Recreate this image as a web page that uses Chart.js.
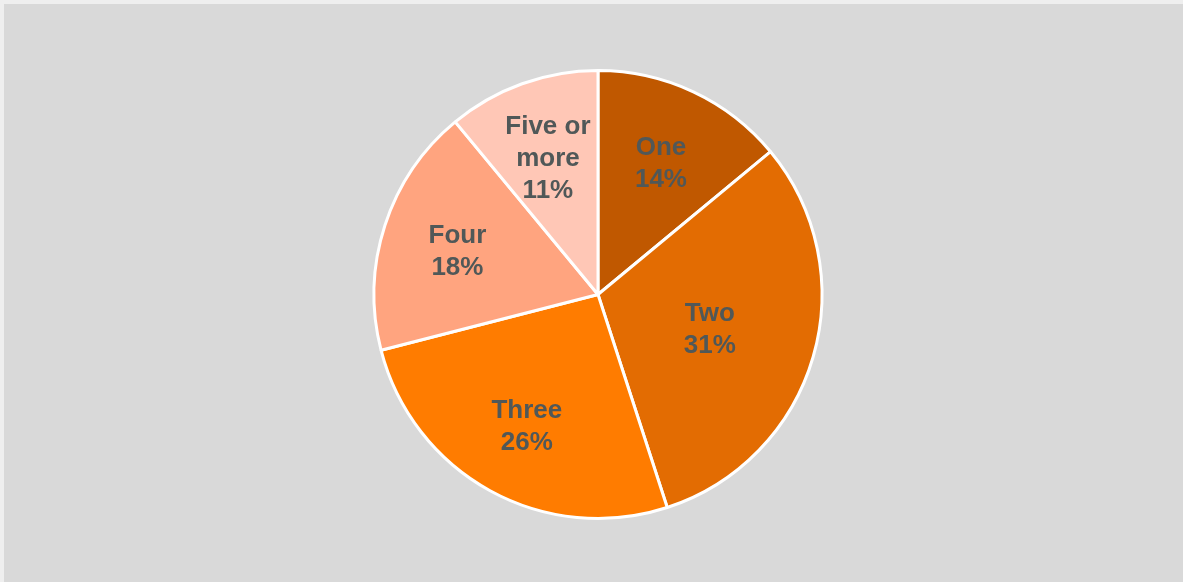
<!DOCTYPE html>
<html lang="en">
<head>
    <meta charset="UTF-8">
    <title>Share by count</title>
    <script src="https://cdn.jsdelivr.net/npm/chart.js"></script>
    <style>
        html, body {
            margin: 0;
            padding: 0;
            background-color: #efefef;
        }

        /* grey plot panel, inset a few px from the page edge */
        .chart-container {
            position: absolute;
            left: 4px;
            top: 4px;
            width: 1179px;
            height: 578px;
            background-color: #d9d9d9;
        }

        canvas {
            width: 100% !important;
            height: 100% !important;
        }
    </style>
</head>
<body>
    <div class="chart-container">
        <canvas id="shareChart"></canvas>
    </div>

    <script>
        // slices run clockwise from 12 o'clock
        var categories = ['One', 'Two', 'Three', 'Four', ['Five or', 'more']];
        var shares = [14, 31, 26, 18, 11];
        var sliceColors = ['#c05800', '#e36c02', '#ff7c00', '#ffa47f', '#ffc7b6'];

        // writes "name / xx%" inside each slice
        var sliceLabels = {
            id: 'sliceLabels',
            afterDatasetsDraw: function (chart) {
                var ctx = chart.ctx;
                var meta = chart.getDatasetMeta(0);
                ctx.save();
                ctx.font = 'bold 26px "Liberation Sans", Arial, sans-serif';
                ctx.fillStyle = '#505858';
                ctx.textAlign = 'center';
                ctx.textBaseline = 'middle';
                meta.data.forEach(function (arc, i) {
                    var mid = (arc.startAngle + arc.endAngle) / 2;
                    // the big slice gets its label pulled in a bit toward the centre
                    var dist = arc.outerRadius * (shares[i] > 30 ? 0.52 : 0.66);
                    var cx = arc.x + Math.cos(mid) * dist;
                    var cy = arc.y + Math.sin(mid) * dist + 3;
                    var name = categories[i];
                    var lines = (Array.isArray(name) ? name : [name]).concat([shares[i] + '%']);
                    var lineH = 32;
                    var y0 = cy - (lines.length - 1) * lineH / 2;
                    lines.forEach(function (t, k) {
                        ctx.fillText(t, cx, y0 + k * lineH);
                    });
                });
                ctx.restore();
            }
        };

        var ctx = document.getElementById('shareChart').getContext('2d');
        new Chart(ctx, {
            type: 'pie',
            data: {
                labels: categories,
                datasets: [{
                    data: shares,
                    backgroundColor: sliceColors,
                    borderColor: '#ffffff',
                    borderWidth: 3
                }]
            },
            options: {
                responsive: true,
                maintainAspectRatio: false,
                animation: false,
                events: [],
                layout: {
                    padding: { top: 65, bottom: 62, left: 9, right: 0 }
                },
                plugins: {
                    legend: { display: false },
                    tooltip: { enabled: false }
                }
            },
            plugins: [sliceLabels]
        });
    </script>
</body>
</html>
